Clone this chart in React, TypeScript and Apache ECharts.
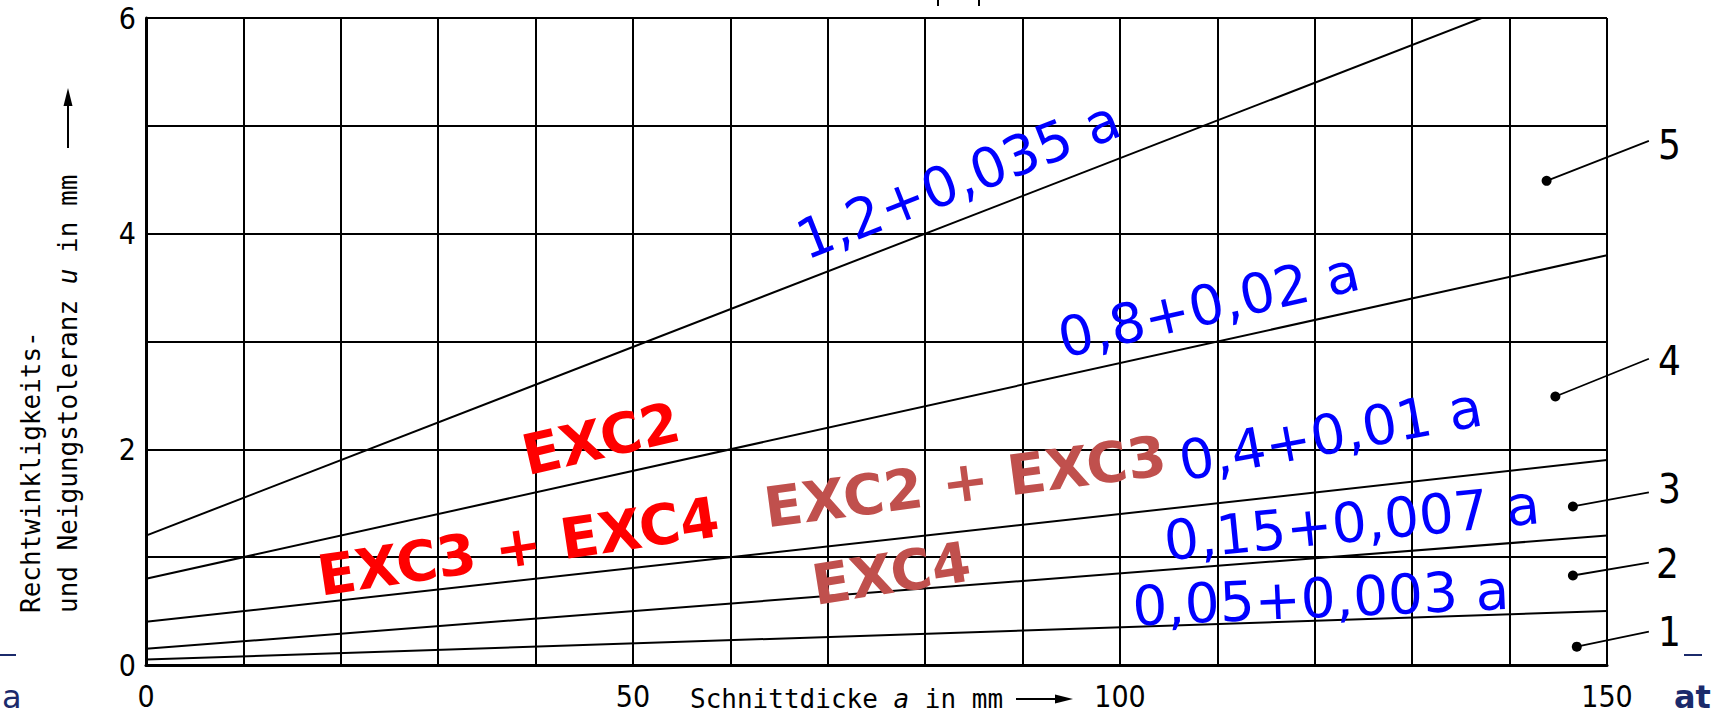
import React, { useEffect, useRef } from 'react';
import * as echarts from 'echarts';

// ---- data ----
const classNames = ['1', '2', '3', '4', '5'];
const thicknessStart = 0;
const thicknessEnd = 150;
const uAtStart = [0.05, 0.15, 0.4, 0.8, 1.2];
const uAtEnd = [0.5, 1.2, 1.9, 3.8, 6.45];

const formulaTexts = ['0,05+0,003 a', '0,15+0,007 a', '0,4+0,01 a', '0,8+0,02 a', '1,2+0,035 a'];
const formulaAnchor = [[120.6, 0.62], [123.8, 1.32], [121.6, 2.14], [109.1, 3.34], [83.4, 4.5]];
const formulaAngle = [2.5, 5.7, 10.5, 13, 21.5];

const classTexts = ['EXC2', 'EXC3 + EXC4', 'EXC2 + EXC3', 'EXC4'];
const classAnchor = [[46.7, 2.1], [38.2, 1.1], [84.1, 1.7], [76.5, 0.85]];
const classAngle = [13, 8.5, 7.5, 9];
const classColor = ['#ff0000', '#ff0000', '#c0504d', '#c0504d'];

const markerDot = [[146.9, 0.17], [146.5, 0.83], [146.5, 1.47], [144.7, 2.49], [143.8, 4.49]];
const markerEnd = [[154.3, 0.31], [154.3, 0.95], [154.3, 1.6], [154.3, 2.84], [154.3, 4.86]];
const markerLabel = [[156.4, 0.31], [156.2, 0.94], [156.4, 1.63], [156.4, 2.82], [156.4, 4.82]];

const xTickLabels = [0, 50, 100, 150];
const yTickLabels = [0, 2, 4, 6];

const thinFont = '"DejaVu Sans Condensed", "DejaVu Sans", sans-serif';
const monoFont = '"DejaVu Sans Mono", monospace';
const labelFont = '"DejaVu Sans", sans-serif';

export default function App() {
  const ref = useRef<HTMLDivElement>(null);
  useEffect(() => {
    if (!ref.current) return;
    const chart = echarts.init(ref.current, null, { renderer: 'svg' });
    const series: any[] = [];
    classNames.forEach((c, i) => {
      series.push({
        type: 'line',
        name: 'Klasse ' + c,
        data: [[thicknessStart, uAtStart[i]], [thicknessEnd, uAtEnd[i]]],
        symbol: 'none',
        lineStyle: { color: '#000', width: 2 },
        clip: true,
        silent: true,
        z: 3,
      });
    });
    series.push({
      type: 'custom',
      coordinateSystem: 'cartesian2d',
      data: markerDot.map((d, i) => [d[0], d[1], markerEnd[i][0], markerEnd[i][1]]),
      clip: false,
      silent: true,
      z: 4,
      renderItem: (params: any, api: any) => {
        const p1 = api.coord([api.value(0), api.value(1)]);
        const p2 = api.coord([api.value(2), api.value(3)]);
        return {
          type: 'group',
          children: [
            {
              type: 'line',
              shape: { x1: p1[0], y1: p1[1], x2: p2[0], y2: p2[1] },
              style: { stroke: '#000', lineWidth: 1.8 },
            },
            {
              type: 'circle',
              shape: { cx: p1[0], cy: p1[1], r: 5 },
              style: { fill: '#000' },
            },
          ],
        };
      },
    });
    const hidden = { color: 'rgba(0,0,0,0)', opacity: 1 };
    series.push({
      type: 'scatter',
      data: markerLabel.map((p, i) => ({
        value: p,
        label: { formatter: classNames[i] },
      })),
      symbolSize: 1,
      itemStyle: hidden,
      label: {
        show: true,
        position: 'inside',
        fontSize: 40,
        fontFamily: thinFont,
        color: '#000',
      },
      clip: false,
      silent: true,
      z: 5,
    });
    series.push({
      type: 'scatter',
      data: formulaAnchor.map((p, i) => ({
        value: p,
        label: { formatter: formulaTexts[i], rotate: formulaAngle[i] },
      })),
      symbolSize: 1,
      itemStyle: hidden,
      label: {
        show: true,
        position: 'inside',
        fontSize: 55,
        fontFamily: labelFont,
        color: '#0000ff',
      },
      clip: false,
      silent: true,
      z: 6,
    });
    series.push({
      type: 'scatter',
      data: classAnchor.map((p, i) => ({
        value: p,
        label: { formatter: classTexts[i], rotate: classAngle[i], color: classColor[i] },
      })),
      symbolSize: 1,
      itemStyle: hidden,
      label: {
        show: true,
        position: 'inside',
        fontSize: 56,
        fontWeight: 'bold',
        fontFamily: labelFont,
      },
      clip: false,
      silent: true,
      z: 6,
    });

    const navy = '#1b2a6b';
    chart.setOption({
      animation: false,
      backgroundColor: '#fff',
      grid: { left: 146, right: 110, top: 18, bottom: 52, containLabel: false },
      xAxis: {
        type: 'value',
        min: 0,
        max: 150,
        interval: 10,
        axisLine: { show: true, onZero: false, lineStyle: { color: '#000', width: 3 } },
        axisTick: { show: false },
        splitLine: { show: true, lineStyle: { color: '#000', width: 2 } },
        axisLabel: {
          margin: 16,
          fontSize: 30,
          fontFamily: thinFont,
          color: '#000',
          formatter: (v: number) => (xTickLabels.includes(v) ? String(v) : ''),
        },
      },
      yAxis: {
        type: 'value',
        min: 0,
        max: 6,
        interval: 1,
        axisLine: { show: true, onZero: false, lineStyle: { color: '#000', width: 3 } },
        axisTick: { show: false },
        splitLine: { show: true, lineStyle: { color: '#000', width: 2 } },
        axisLabel: {
          margin: 10,
          fontSize: 30,
          fontFamily: thinFont,
          color: '#000',
          formatter: (v: number) => (yTickLabels.includes(v) ? String(v) : ''),
        },
      },
      series,
      graphic: [
        {
          type: 'text',
          x: 31,
          y: 613,
          rotation: Math.PI / 2,
          style: {
            text: 'Rechtwinkligkeits-',
            fontSize: 26,
            fontFamily: monoFont,
            fill: '#000',
            align: 'left',
            verticalAlign: 'middle',
          },
        },
        {
          type: 'text',
          x: 68,
          y: 613,
          rotation: Math.PI / 2,
          style: {
            text: 'und Neigungstoleranz {i|u} in mm',
            fontSize: 26,
            fontFamily: monoFont,
            fill: '#000',
            align: 'left',
            verticalAlign: 'middle',
            rich: { i: { fontStyle: 'italic', fontSize: 26, fontFamily: monoFont } },
          },
        },
        { type: 'line', shape: { x1: 68, y1: 148, x2: 68, y2: 102 }, style: { stroke: '#000', lineWidth: 2 } },
        { type: 'polygon', shape: { points: [[68, 88], [63.5, 106], [72.5, 106]] }, style: { fill: '#000' } },
        {
          type: 'text',
          x: 690,
          y: 699,
          style: {
            text: 'Schnittdicke {i|a} in mm',
            fontSize: 26,
            fontFamily: monoFont,
            fill: '#000',
            align: 'left',
            verticalAlign: 'middle',
            rich: { i: { fontStyle: 'italic', fontSize: 26, fontFamily: monoFont } },
          },
        },
        { type: 'line', shape: { x1: 1016, y1: 699, x2: 1058, y2: 699 }, style: { stroke: '#000', lineWidth: 2 } },
        { type: 'polygon', shape: { points: [[1073, 699], [1055, 694.5], [1055, 703.5]] }, style: { fill: '#000' } },
        { type: 'line', shape: { x1: 0, y1: 655, x2: 16, y2: 655 }, style: { stroke: navy, lineWidth: 2 } },
        { type: 'line', shape: { x1: 1684, y1: 655, x2: 1702, y2: 655 }, style: { stroke: navy, lineWidth: 2 } },
        {
          type: 'text',
          x: 2,
          y: 697,
          style: { text: 'a', fontSize: 32, fontFamily: labelFont, fill: navy, align: 'left', verticalAlign: 'middle' },
        },
        {
          type: 'text',
          x: 1674,
          y: 697,
          style: { text: 'at', fontSize: 32, fontWeight: 'bold', fontFamily: labelFont, fill: navy, align: 'left', verticalAlign: 'middle' },
        },
        { type: 'line', shape: { x1: 938, y1: 0, x2: 938, y2: 6 }, style: { stroke: '#000', lineWidth: 2 } },
        { type: 'line', shape: { x1: 979, y1: 0, x2: 979, y2: 6 }, style: { stroke: '#000', lineWidth: 2 } },
      ],
    });
    return () => chart.dispose();
  }, []);
  return (
    <div
      ref={ref}
      style={{ position: 'fixed', left: 0, top: 0, width: 1717, height: 717, background: '#fff' }}
    />
  );
}
